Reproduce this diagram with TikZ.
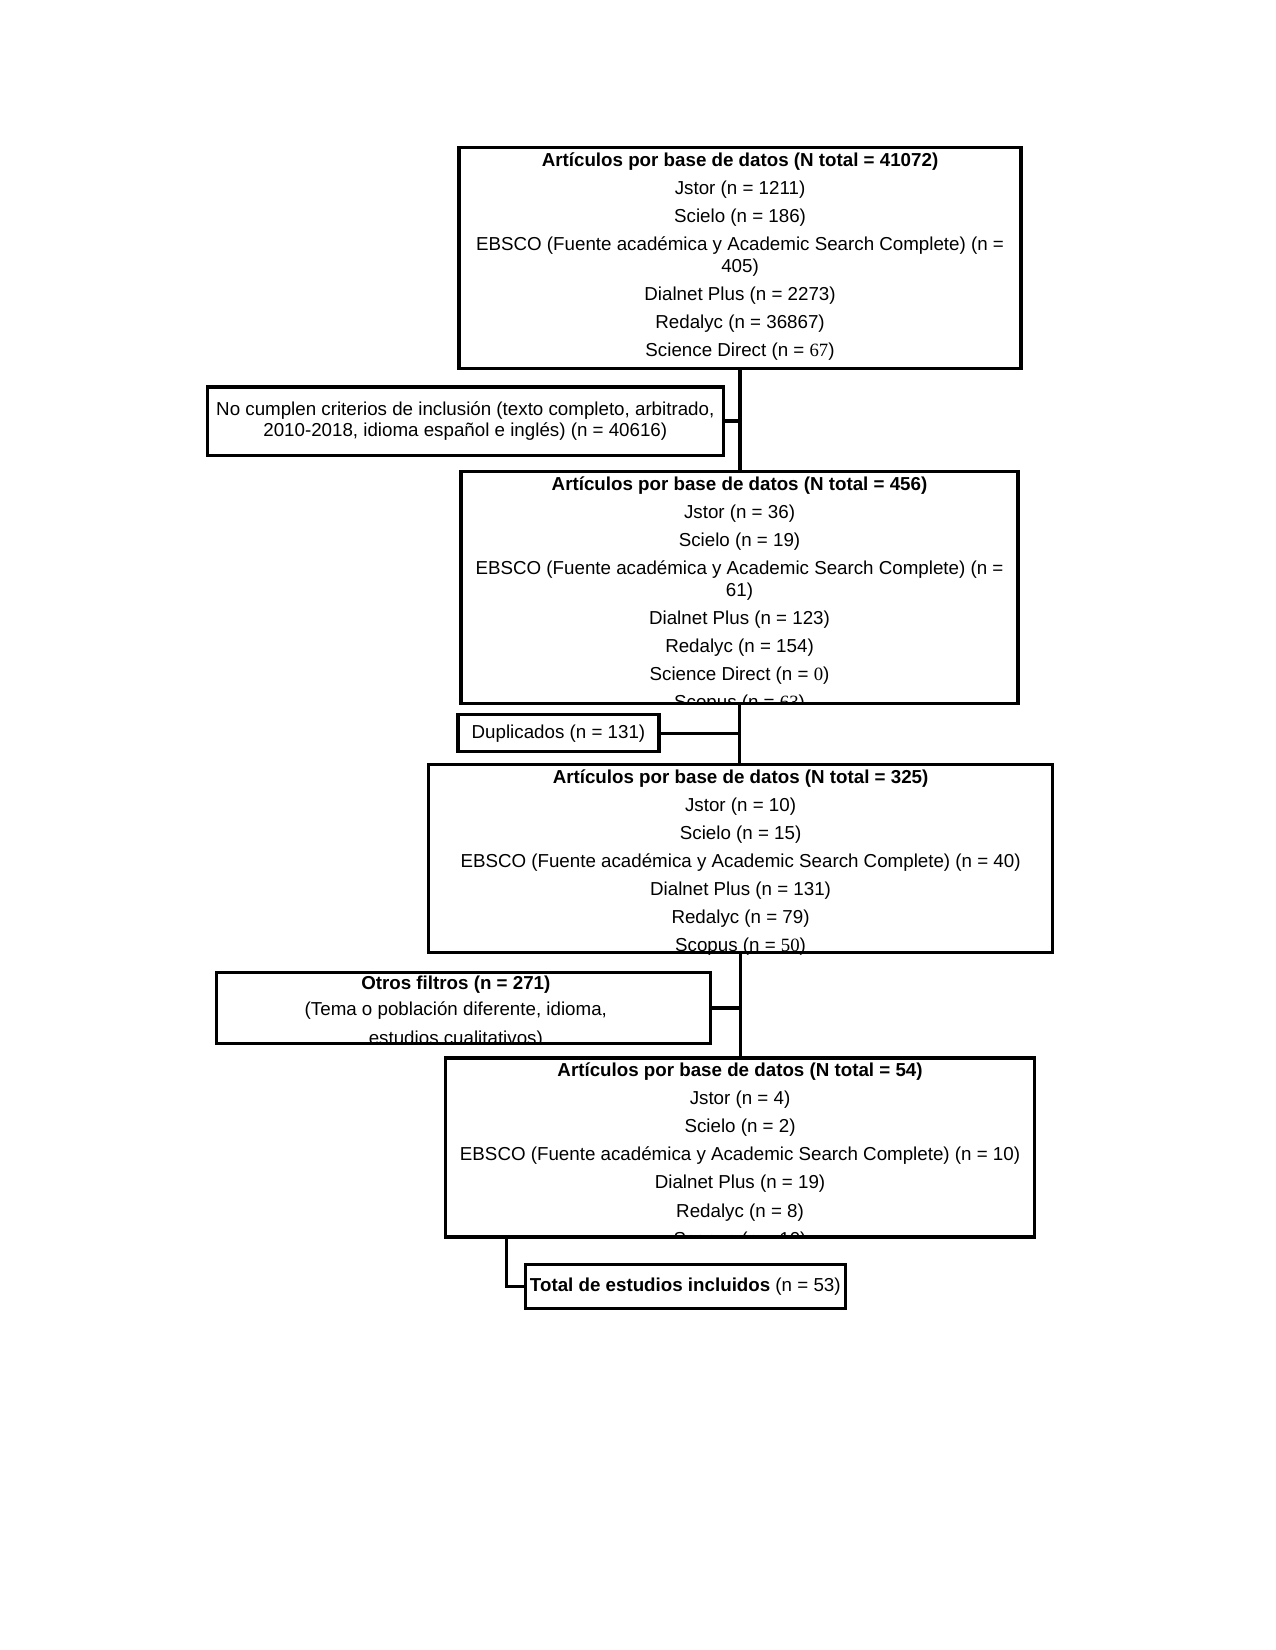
\documentclass[tikz,border=0pt]{standalone}
\usepackage{fontspec}
\setmainfont{Liberation Sans}
\newfontfamily\serifnum{Liberation Serif}
\newcommand\firstln{\rule{0pt}{7.37pt}}
\begin{document}
\begin{tikzpicture}[x=0.5053pt,y=-0.5053pt,
  font=\fontsize{9}{10.5}\selectfont,
  box/.style={draw, line width=1.58pt, inner sep=0pt, rectangle},
  txt/.style={align=center, inner sep=0pt, anchor=north},
  link/.style={line width=1.58pt}]
\useasboundingbox (0,0) rectangle (1211.2,1567.4);
\fill[white] (0,0) rectangle (1211.2,1567.4);

% Box 1
\node[box, minimum width=269.8pt, minimum height=106.1pt] (b1) at (703,245) {};
\begin{scope}
\clip (b1.south west) rectangle (b1.north east);
\node[txt] (b1t) at (703,143) {\firstln\textbf{Artículos por base de datos (N total = 41072)}\\[2.95pt]
Jstor (n = 1211)\\[2.95pt]
Scielo (n = 186)\\[2.95pt]
EBSCO (Fuente académica y Academic Search Complete) (n =\\
405)\\[2.95pt]
Dialnet Plus (n = 2273)\\[2.95pt]
Redalyc (n = 36867)\\[2.95pt]
Science Direct (n = {\serifnum 67})};
\end{scope}

% Exclusion box
\node[box, align=center, minimum width=247.6pt, minimum height=32.8pt] (nc) at (442,400)
 {No cumplen criterios de inclusión (texto completo, arbitrado,\\[-0.42pt]
 2010-2018, idioma español e inglés) (n = 40616)};

% Box 2
\node[box, minimum width=267.3pt, minimum height=111.2pt] (b2) at (702.5,558) {};
\begin{scope}
\clip (b2.south west) rectangle (b2.north east);
\node[txt] (b2t) at (702.5,451) {\firstln\textbf{Artículos por base de datos (N total = 456)}\\[2.95pt]
Jstor (n = 36)\\[2.95pt]
Scielo (n = 19)\\[2.95pt]
EBSCO (Fuente académica y Academic Search Complete) (n =\\
61)\\[2.95pt]
Dialnet Plus (n = 123)\\[2.95pt]
Redalyc (n = 154)\\[2.95pt]
Science Direct (n = {\serifnum 0})\\[2.95pt]
Scopus (n = {\serifnum 63})};
\end{scope}

% Duplicates
\node[box, minimum width=96.5pt, minimum height=17.7pt] (dup) at (530.5,696.5) {Duplicados (n = 131)};

% Box 3
\node[box, minimum width=299.6pt, minimum height=90.4pt] (b3) at (703.5,815.5) {};
\begin{scope}
\clip (b3.south west) rectangle (b3.north east);
\node[txt] (b3t) at (703.5,729) {\firstln\textbf{Artículos por base de datos (N total = 325)}\\[2.95pt]
Jstor (n = 10)\\[2.95pt]
Scielo (n = 15)\\[2.95pt]
EBSCO (Fuente académica y Academic Search Complete) (n = 40)\\[2.95pt]
Dialnet Plus (n = 131)\\[2.95pt]
Redalyc (n = 79)\\[2.95pt]
Scopus (n = {\serifnum 50})};
\end{scope}

% Other filters
\node[box, minimum width=237.0pt, minimum height=33.9pt] (ot) at (440.5,957.5) {};
\begin{scope}
\clip (ot.south west) rectangle (ot.north east);
\node[txt] (ott) at (433,925) {\firstln\textbf{Otros filtros (n = 271)}\\[2.2pt]
(Tema o población diferente, idioma,\\[3.3pt]
estudios cualitativos)};
\end{scope}

% Box 4
\node[box, minimum width=283.0pt, minimum height=85.9pt] (b4) at (703,1090) {};
\begin{scope}
\clip (b4.south west) rectangle (b4.north east);
\node[txt] (b4t) at (703,1008) {\firstln\textbf{Artículos por base de datos (N total = 54)}\\[2.95pt]
Jstor (n = 4)\\[2.95pt]
Scielo (n = 2)\\[2.95pt]
EBSCO (Fuente académica y Academic Search Complete) (n = 10)\\[2.95pt]
Dialnet Plus (n = 19)\\[2.95pt]
Redalyc (n = 8)\\[2.95pt]
Scopus (n = 10)};
\end{scope}

% Total
\node[box, minimum width=153.6pt, minimum height=21.2pt] (tot) at (651,1222) {\textbf{Total de estudios incluidos} (n = 53)};

% Connectors
\draw[link] (b1.south) -- (b1.south |- b2.north);
\draw[link] (nc.east) -- (nc.east -| b1.south);
\draw[link] (b2.south) -- (b2.south |- b3.north);
\draw[link] (dup.east) -- (dup.east -| b2.south);
\draw[link] (b3.south) -- (b3.south |- b4.north);
\draw[link] (ot.east) -- (ot.east -| b3.south);
\coordinate (c4) at (481,1175);
\draw[link] (c4) |- (tot.west);
\end{tikzpicture}
\end{document}
